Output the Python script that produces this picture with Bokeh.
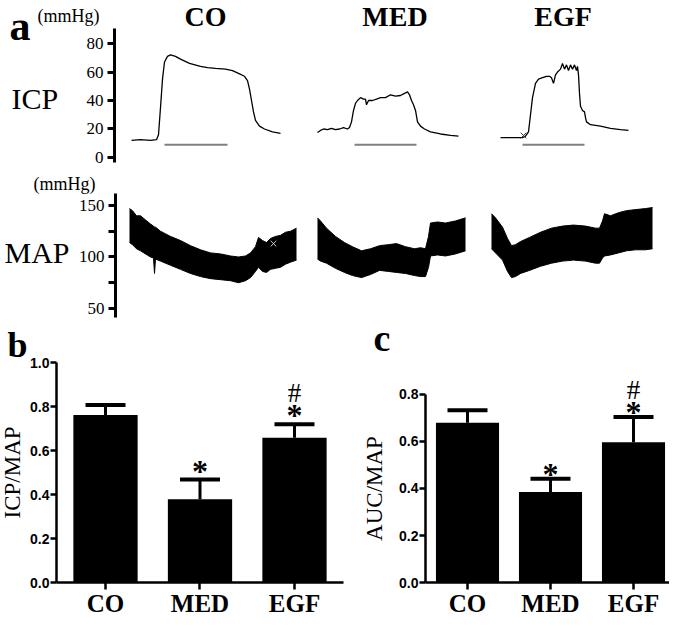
from bokeh.plotting import figure
from bokeh.layouts import column, row
from bokeh.models import (Label, LabelSet, ColumnDataSource, Whisker, TeeHead,
                          FixedTicker, Range1d, PrintfTickFormatter)
from bokeh.embed import file_html
from bokeh.resources import INLINE

groups = ["CO", "MED", "EGF"]

# ---- ICP traces (recording time, ICP in mmHg) ----
co_icp_t = [131, 140, 150, 156, 158, 160, 162, 164, 167, 170, 175, 180, 189, 200, 207,
            215, 225, 232, 238, 244, 247, 249, 251, 253, 255, 259, 264, 272, 280]
co_icp = [12, 12.5, 12, 12.5, 16, 35, 55, 67, 71, 72, 71, 69, 66, 64, 63,
          62.5, 62, 61, 59, 57, 54, 48, 40, 32, 26, 22, 20, 18, 17]
med_icp_t = [317, 320, 323, 327, 331, 335, 339, 343, 347, 349, 351, 353, 355, 357, 360,
             363, 365, 366, 368, 372, 376, 380, 385, 390, 395, 400, 404, 407, 409, 411,
             413, 415, 417, 420, 424, 430, 440, 450, 458]
med_icp = [17.5, 19, 20, 19.5, 20.5, 19.5, 20, 21, 20, 21, 25, 33, 38, 40, 42,
           41, 41, 37, 40, 40, 41, 42, 42, 44, 43, 43.5, 45, 46, 44, 40,
           37, 33, 25, 22, 20, 18, 16.5, 15.5, 15]
egf_icp_t = [500, 512, 522, 525, 528, 530, 532, 535, 538, 542, 546, 549, 551, 553, 555,
             557, 560, 562, 564, 566, 568, 570, 572, 574, 576, 577, 578, 579, 580, 582,
             584, 585, 586, 590, 600, 610, 620, 628]
egf_icp = [14, 14, 14, 15, 18, 30, 42, 52, 55, 56, 57, 57, 56, 52, 58,
           60, 62, 66, 62, 65, 61, 65, 62, 65, 61, 64, 58, 45, 36, 33,
           32, 28, 25, 23, 22, 20.5, 19.5, 19]
stim_start = [164, 354, 522]
stim_end = [227, 416, 584]
stim_level = 9
icp_cross_t = [523]
icp_cross_v = [15.4]

# ---- MAP traces (upper / lower envelope, mmHg) ----
co_map_t = [129, 132, 136, 140, 145, 150, 153, 154, 155, 160, 170, 180, 190, 200, 210,
            220, 230, 238, 245, 250, 255, 258, 262, 266, 270, 275, 280, 285, 290, 296]
co_map_hi = [147, 145, 140, 140, 136, 132, 130, 129, 129, 125, 120, 116, 111, 107, 104,
             103, 101, 100, 101, 104, 110, 119, 116, 114, 118, 120, 121, 124, 125, 128]
co_map_lo = [114, 112, 108, 106, 103, 100, 99, 84, 98, 96, 92, 88, 84, 81, 79,
             78, 77, 75, 77, 80, 86, 90, 86, 85, 88, 89, 90, 93, 95, 97]
med_map_t = [317, 320, 326, 335, 344, 352, 361, 370, 379, 388, 396, 405, 414, 420, 425,
             428, 430, 437, 445, 455, 465]
med_map_hi = [138, 135, 128, 120, 114, 110, 106, 108, 111, 112, 113, 110, 108, 109, 108,
              120, 133, 134, 133, 135, 138]
med_map_lo = [98, 96, 94, 89, 85, 82, 80, 83, 87, 86, 85, 84, 82, 81, 81,
              90, 101, 102, 101, 103, 106]
egf_map_t = [491, 495, 502, 507, 511, 515, 520, 529, 540, 551, 562, 573, 585, 595, 599,
             602, 604, 610, 618, 626, 635, 645, 652]
egf_map_hi = [142, 138, 129, 118, 111, 112, 115, 119, 124, 128, 130, 131, 130, 128, 128,
              135, 142, 140, 143, 145, 146, 147, 148]
egf_map_lo = [108, 104, 97, 86, 80, 81, 84, 87, 91, 94, 96, 97, 96, 94, 94,
              99, 101, 102, 104, 106, 107, 107, 108]
map_cross_t = [273]
map_cross_v = [113]

# ---- bar charts ----
xs = [1, 2, 3]
icp_map_mean = [0.761, 0.378, 0.658]
icp_map_sem = [0.046, 0.090, 0.061]
auc_map_mean = [0.680, 0.385, 0.597]
auc_map_sem = [0.053, 0.057, 0.107]
sig_star = ["", "*", "*"]
sig_hash = ["", "", "#"]

SERIF = "Liberation Serif"
SANS = "Liberation Sans"
BORDERS = dict(min_border_left=0, min_border_right=0, min_border_top=0, min_border_bottom=0)


def lab(p, x, y, text, size, bold=False, align="left", baseline="middle"):
    p.add_layout(Label(x=x, y=y, text=text, text_font=SERIF, text_font_size=size,
                       text_font_style="bold" if bold else "normal", text_align=align,
                       text_baseline=baseline, text_color="black"))


def style_trace_axis(p, loc, bounds, ticks, overrides=None):
    p.grid.visible = False
    p.outline_line_color = None
    ax = p.yaxis[0]
    ax.fixed_location = loc
    ax.bounds = bounds
    ax.ticker = FixedTicker(ticks=ticks)
    ax.minor_tick_line_color = None
    ax.major_tick_in = 0
    ax.major_tick_out = 7
    ax.major_tick_line_width = 3
    ax.axis_line_width = 3
    ax.major_label_text_font = SERIF
    ax.major_label_text_font_size = "17px"
    ax.major_label_text_color = "black"
    ax.major_label_standoff = 4
    if overrides:
        ax.major_label_overrides = overrides


# ================= ICP panel =================
p1 = figure(width=669, height=172, x_range=Range1d(0, 669), y_range=Range1d(-10.53, 110.18),
            output_backend="svg", toolbar_location=None, x_axis_location=None, **BORDERS)
style_trace_axis(p1, 114, (-3.5, 90.5), [0, 20, 40, 60, 80])
for t, v in [(co_icp_t, co_icp), (med_icp_t, med_icp), (egf_icp_t, egf_icp)]:
    p1.line(t, v, line_color="black", line_width=1.3)
p1.segment(x0=stim_start, x1=stim_end, y0=[stim_level] * 3, y1=[stim_level] * 3,
           line_color="#808080", line_width=2)
p1.scatter(icp_cross_t, icp_cross_v, marker="x", size=8, line_color="#333333", line_width=1)
lab(p1, 9, 92.6, "a", "42px", bold=True, baseline="alphabetic")
lab(p1, 37, 99.6, "(mmHg)", "18px")
lab(p1, 11, 41.4, "ICP", "30px")
title_src = ColumnDataSource(dict(x=[(s + e) / 2 for s, e in zip(stim_start, stim_end)],
                                  text=groups))
p1.add_layout(LabelSet(x="x", y=98.9, text="text", source=title_src, text_font=SERIF,
                       text_font_size="28px", text_font_style="bold", text_align="center",
                       text_baseline="middle", x_offset=9.5, text_color="black"))

# ================= MAP panel =================
p2 = figure(width=669, height=146, x_range=Range1d(0, 669), y_range=Range1d(40.29, 182.04),
            output_backend="svg", toolbar_location=None, x_axis_location=None, **BORDERS)
style_trace_axis(p2, 115, (41.3, 161.7), [50, 75, 100, 125, 150], {75: "", 125: ""})
for t, hi, lo in [(co_map_t, co_map_hi, co_map_lo), (med_map_t, med_map_hi, med_map_lo),
                  (egf_map_t, egf_map_hi, egf_map_lo)]:
    p2.varea(x=t, y1=lo, y2=hi, fill_color="black")
    p2.line(t, hi, line_color="black", line_width=1)
    p2.line(t, lo, line_color="black", line_width=1)
p2.scatter(map_cross_t, map_cross_v, marker="x", size=8, line_color="#cccccc", line_width=1)
lab(p2, 33, 170.4, "(mmHg)", "18px")
lab(p2, 4, 104.4, "MAP", "30px")


# ================= bar panels =================
def bar_panel(width, xr, yr, ymax, xbounds, yticks, means, sems, label, bar_w, head,
              label_standoff, star_off, hash_off):
    p = figure(width=width, height=302, x_range=Range1d(*xr), y_range=Range1d(*yr),
               output_backend="svg", toolbar_location=None, **BORDERS)
    p.grid.visible = False
    p.outline_line_color = None
    src = ColumnDataSource(dict(x=xs, top=means, err=[m + s for m, s in zip(means, sems)],
                                star=sig_star, hash=sig_hash))
    p.vbar(x="x", top="top", width=bar_w, source=src, fill_color="black", line_color=None)
    p.add_layout(Whisker(source=src, base="x", lower="top", upper="err", line_width=3,
                         line_color="black", lower_head=None,
                         upper_head=TeeHead(size=head, line_width=4, line_color="black")))
    p.add_layout(LabelSet(x="x", y="err", text="star", source=src, text_font=SANS,
                          text_font_size="32px", text_font_style="bold", text_align="center",
                          text_baseline="alphabetic", y_offset=star_off, text_color="black"))
    p.add_layout(LabelSet(x="x", y="err", text="hash", source=src, text_font=SERIF,
                          text_font_size="27px", text_align="center",
                          text_baseline="alphabetic", y_offset=hash_off, text_color="black"))
    ya = p.yaxis[0]
    ya.fixed_location = xbounds[0]
    ya.bounds = (0, ymax)
    ya.ticker = FixedTicker(ticks=yticks)
    ya.formatter = PrintfTickFormatter(format="%.1f")
    ya.minor_tick_line_color = None
    ya.major_tick_in = 0
    ya.major_tick_out = 6
    ya.major_tick_line_width = 2.5
    ya.axis_line_width = 2.5
    ya.major_label_text_font = SANS
    ya.major_label_text_font_style = "bold"
    ya.major_label_text_font_size = "14px"
    ya.major_label_text_color = "black"
    ya.major_label_standoff = 1
    ya.axis_label = label
    ya.axis_label_text_font = SERIF
    ya.axis_label_text_font_style = "normal"
    ya.axis_label_text_font_size = "23px"
    ya.axis_label_text_color = "black"
    ya.axis_label_standoff = label_standoff
    xa = p.xaxis[0]
    xa.fixed_location = 0
    xa.bounds = xbounds
    xa.ticker = FixedTicker(ticks=xs)
    xa.major_label_overrides = {x: g for x, g in zip(xs, groups)}
    xa.minor_tick_line_color = None
    xa.major_tick_in = 0
    xa.major_tick_out = 7
    xa.major_tick_line_width = 2.5
    xa.axis_line_width = 2.5
    xa.major_label_text_font = SERIF
    xa.major_label_text_font_style = "bold"
    xa.major_label_text_font_size = "25px"
    xa.major_label_text_color = "black"
    xa.major_label_standoff = 0
    return p


p3 = bar_panel(350, (-0.1111, 3.5926), (-0.1727, 1.2), 1.0, (0.4815, 3.5185),
               [0, 0.2, 0.4, 0.6, 0.8, 1.0], icp_map_mean, icp_map_sem, "ICP/MAP",
               0.68, 40, 2, -2, 22)
lab(p3, -0.037, 1.08, "b", "36px", bold=True, baseline="alphabetic")

p4 = bar_panel(319, (-0.4096, 3.4337), (-0.1617, 1.1234), 0.8, (0.494, 3.43),
               [0, 0.2, 0.4, 0.6, 0.8], auc_map_mean, auc_map_sem, "AUC/MAP",
               0.76, 40, 9, -6, 18)
lab(p4, -0.1325, 1.0383, "c", "38px", bold=True, baseline="alphabetic")

layout = column(p1, p2, row(p3, p4, spacing=0), spacing=0)
open("out.html", "w").write(file_html(layout, INLINE))
